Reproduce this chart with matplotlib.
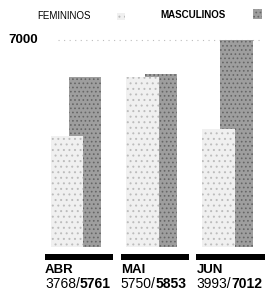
import matplotlib.pyplot as plt
import numpy as np

meses = ["ABR", "MAI", "JUN"]
femininos = [3768, 5750, 3993]
masculinos = [5761, 5853, 7012]

plt.rcParams['font.family'] = ["Liberation Sans Narrow", "Liberation Sans", "DejaVu Sans"]
plt.rcParams['hatch.linewidth'] = 0.7

fig = plt.figure(figsize=(2.67, 2.99), dpi=100)
# eixo: zero em y=52px (de baixo), 7000 em y=259px
ax = fig.add_axes([0, 52/299, 1, 207*7300/7000/299])
x = np.arange(len(meses))
w = 0.43

ax.axhline(7000, xmin=58/267, xmax=262/267, color="#bdbdbd", lw=0.8, ls=(0, (1, 4)))

ax.bar(x + 0.12, masculinos, w, color="#9e9e9e", edgecolor="#666666", lw=0, hatch="....", zorder=2)
ax.bar(x - 0.12, femininos, w, color="#f0f0f0", edgecolor="#bcbcbc", lw=0, hatch="...", zorder=3)

# barras pretas da base
ax.bar(x + 0.04, 210, 0.9, bottom=-430, color="black", clip_on=False, zorder=4)

ax.set_xlim(-76/75.75, (267-76)/75.75)
ax.set_ylim(0, 7300)
ax.axis("off")

for i, m in enumerate(meses):
    x0 = x[i] - 0.41
    ax.text(x0, -790, m, fontsize=9.5, fontweight="bold", ha="left", va="center", clip_on=False)
    t = ax.text(x0, -1240, f"{femininos[i]}/", fontsize=10, ha="left", va="center", clip_on=False)
    fig.canvas.draw()
    bb = t.get_window_extent()
    xb = ax.transData.inverted().transform((bb.x1, 0))[0]
    ax.text(xb, -1240, f"{masculinos[i]}", fontsize=10, fontweight="bold", ha="left", va="center", clip_on=False)

fig.text(8/267, 1 - 40/299, "7000", fontsize=9.5, fontweight="bold", ha="left", va="center")
fig.text(37/267, 1 - 16/299, "FEMININOS", fontsize=7, ha="left", va="center")
fig.text(160/267, 1 - 15/299, "MASCULINOS", fontsize=7, fontweight="bold", ha="left", va="center")
fig.patches.append(plt.Rectangle((117/267, 1 - 20/299), 8/267, 7/299, transform=fig.transFigure,
                                 facecolor="#f0f0f0", edgecolor="#bcbcbc", lw=0, hatch="..."))
fig.patches.append(plt.Rectangle((253/267, 1 - 19/299), 9/267, 10/299, transform=fig.transFigure,
                                 facecolor="#9e9e9e", edgecolor="#666666", lw=0, hatch="...."))

fig.savefig("out.png", dpi=100)
